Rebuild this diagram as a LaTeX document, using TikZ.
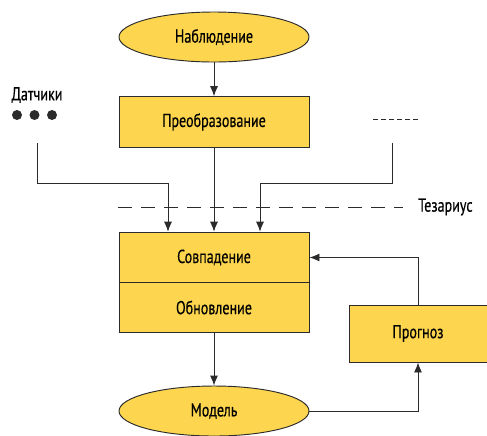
\documentclass[tikz,border=0pt]{standalone}
\usepackage{fontspec}
\setmainfont{PT Sans}[FakeStretch=0.75,FakeBold=0.4]
\usetikzlibrary{arrows.meta,shapes.geometric}
\definecolor{boxyellow}{HTML}{FDD54E}
\definecolor{linegray}{HTML}{2B2B2B}

\tikzset{
    blockbox/.style = {draw=linegray, fill=boxyellow, line width=0.8pt, minimum width=5.7cm, minimum height=1.52cm, font=\fontsize{16}{18}\selectfont},
    ovalbox/.style = {ellipse, draw=linegray, fill=boxyellow, line width=0.8pt, minimum width=5.7cm, minimum height=1.5cm, inner sep=0pt, font=\fontsize{16}{18}\selectfont},
    link/.style = {draw=linegray, line width=0.8pt, -{Latex[length=0.3cm, width=0.24cm]}},
    plainlabel/.style = {font=\fontsize{16}{18}\selectfont, inner sep=0pt}
}

\begin{document}
\begin{tikzpicture}[x=0.03cm, y=-0.03cm]
    \useasboundingbox (0,0) rectangle (487,435);

    \node [ovalbox] (observe) at (214,37) {Наблюдение};
    \node [blockbox] (convert) at (214,122) {Преобразование};
    \node [blockbox] (match) at (214,257.5) {Совпадение};
    \node [blockbox] (update) at (214,307.5) {Обновление};
    \node [ovalbox] (model) at (214,411) {Модель};
    \node [blockbox, minimum width=4.14cm, minimum height=1.71cm] (forecast) at (418,333.5) {Прогноз};

    % sensors
    \node [plainlabel] (sensors) at (37,95) {Датчики};
    \foreach \x/\n in {17/dotA,34.5/dotB,52/dotC}
        \fill [linegray] (\x,115) circle (5) coordinate (\n);
    \coordinate (sensorsout) at (37,143);
    \coordinate (otherout) at (392,143);
    \draw [linegray, line width=0.8pt, dash pattern=on 0.15cm off 0.09cm] (373,119) -- (420,119);

    % thesaurus
    \draw [linegray, line width=0.8pt, dash pattern=on 0.42cm off 0.27cm] (118,207) -- (403,207);
    \node [plainlabel, anchor=west] (thesaurus) at (418,207) {Тезариус};

    % connectors
    \draw [link] (observe) -- (convert);
    \draw [link] (sensorsout) |- (168,183) -- (match.north -| 168,0);
    \draw [link] (convert) -- (match);
    \draw [link] (otherout) |- (260,183) -- (match.north -| 260,0);
    \draw [link] (update) -- (model);
    \draw [link] (model.east) -| (forecast.south);
    \draw [link] (forecast.north) |- (match.east);
\end{tikzpicture}
\end{document}
